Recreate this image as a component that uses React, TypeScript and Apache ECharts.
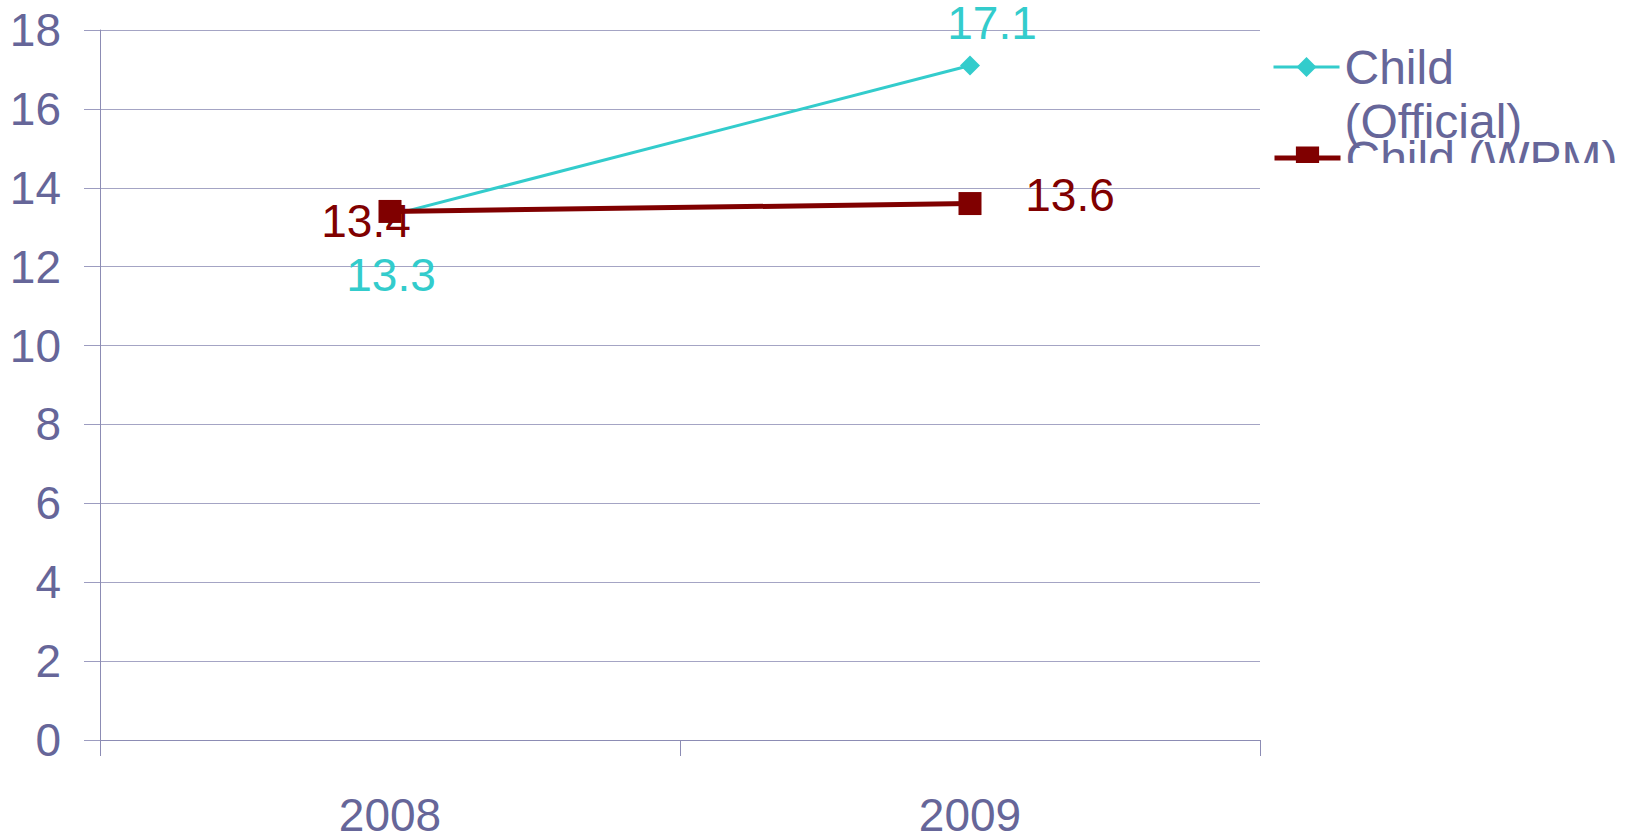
import React, { useEffect, useRef } from "react";
import * as echarts from "echarts";

const categories = ["2008", "2009"];
const officialValues = [13.3, 17.1];
const wpmValues = [13.4, 13.6];
const yTicks = { min: 0, max: 18, interval: 2 };
const seriesNames = ["Child (Official)", "Child (WPM)"];

const TEXT = "#666699";
const FONT = "'Liberation Sans', Arial, sans-serif";

export default function App() {
  const ref = useRef<HTMLDivElement>(null);
  useEffect(() => {
    if (!ref.current) return;
    const chart = echarts.init(ref.current, undefined, { renderer: "svg" });
    const labelBase = {
      show: true,
      position: "inside",
      fontSize: 46,
      lineHeight: 34,
      fontFamily: FONT,
      align: "center",
      verticalAlign: "middle",
    };
    const officialOffsets = [[1, 60], [22, -43]];
    const wpmOffsets = [[-24, 10], [100, -9]];
    chart.setOption({
      animation: false,
      backgroundColor: "#ffffff",
      textStyle: { fontFamily: FONT },
      grid: { left: 100, right: 373, top: 30, bottom: 93, containLabel: false, outerBoundsMode: "none" },
      xAxis: {
        type: "category",
        data: categories,
        boundaryGap: true,
        axisLine: { show: true, lineStyle: { color: "#8c8cb4", width: 1 } },
        axisTick: { show: true, length: 16, inside: false, lineStyle: { color: "#8c8cb4" } },
        axisLabel: { color: TEXT, fontSize: 46, lineHeight: 30, fontFamily: FONT, margin: 60 },
        splitLine: { show: false },
      },
      yAxis: {
        type: "value",
        min: yTicks.min,
        max: yTicks.max,
        interval: yTicks.interval,
        axisLine: { show: true, lineStyle: { color: "#8c8cb4", width: 1 } },
        axisTick: { show: true, length: 16, lineStyle: { color: "#9c9cc0" } },
        axisLabel: { color: TEXT, fontSize: 46, lineHeight: 40, fontFamily: FONT, margin: 39 },
        splitLine: { show: true, lineStyle: { color: "#a4a4c4", width: 1 } },
      },
      legend: [
        {
          data: [seriesNames[0]],
          orient: "vertical",
          left: 1272,
          top: -14,
          padding: 0,
          itemWidth: 66,
          itemHeight: 25,
          formatter: () => "\nChild\n(Official)",
          lineStyle: { width: 3 },
          textStyle: { color: TEXT, fontSize: 48, fontFamily: FONT, lineHeight: 54 },
        },
        {
          data: [seriesNames[1]],
          orient: "vertical",
          left: 1272,
          top: 131,
          padding: 0,
          itemWidth: 66,
          itemHeight: 29,
          lineStyle: { width: 5 },
          textStyle: { color: TEXT, fontSize: 48, fontFamily: FONT, lineHeight: 54 },
        },
      ],
      graphic: [
        {
          type: "rect",
          z: 100,
          shape: { x: 1262, y: 163, width: 371, height: 80 },
          style: { fill: "#ffffff" },
        },
      ],
      series: [
        {
          name: seriesNames[0],
          type: "line",
          data: officialValues.map((v, i) => ({
            value: v,
            label: { ...labelBase, offset: officialOffsets[i] },
          })),
          color: "#33cccc",
          symbol: "diamond",
          symbolSize: 20,
          lineStyle: { width: 3, color: "#33cccc" },
          itemStyle: { color: "#33cccc" },
          label: { ...labelBase, color: "#33cccc" },
          z: 2,
        },
        {
          name: seriesNames[1],
          type: "line",
          data: wpmValues.map((v, i) => ({
            value: v,
            label: { ...labelBase, offset: wpmOffsets[i] },
          })),
          color: "#800000",
          symbol: "rect",
          symbolSize: 23,
          lineStyle: { width: 5, color: "#800000" },
          itemStyle: { color: "#800000" },
          label: { ...labelBase, color: "#800000" },
          z: 3,
        },
      ],
    });
    return () => chart.dispose();
  }, []);
  return (
    <div
      ref={ref}
      style={{ position: "fixed", left: 0, top: 0, width: 1633, height: 833, background: "#fff" }}
    />
  );
}
